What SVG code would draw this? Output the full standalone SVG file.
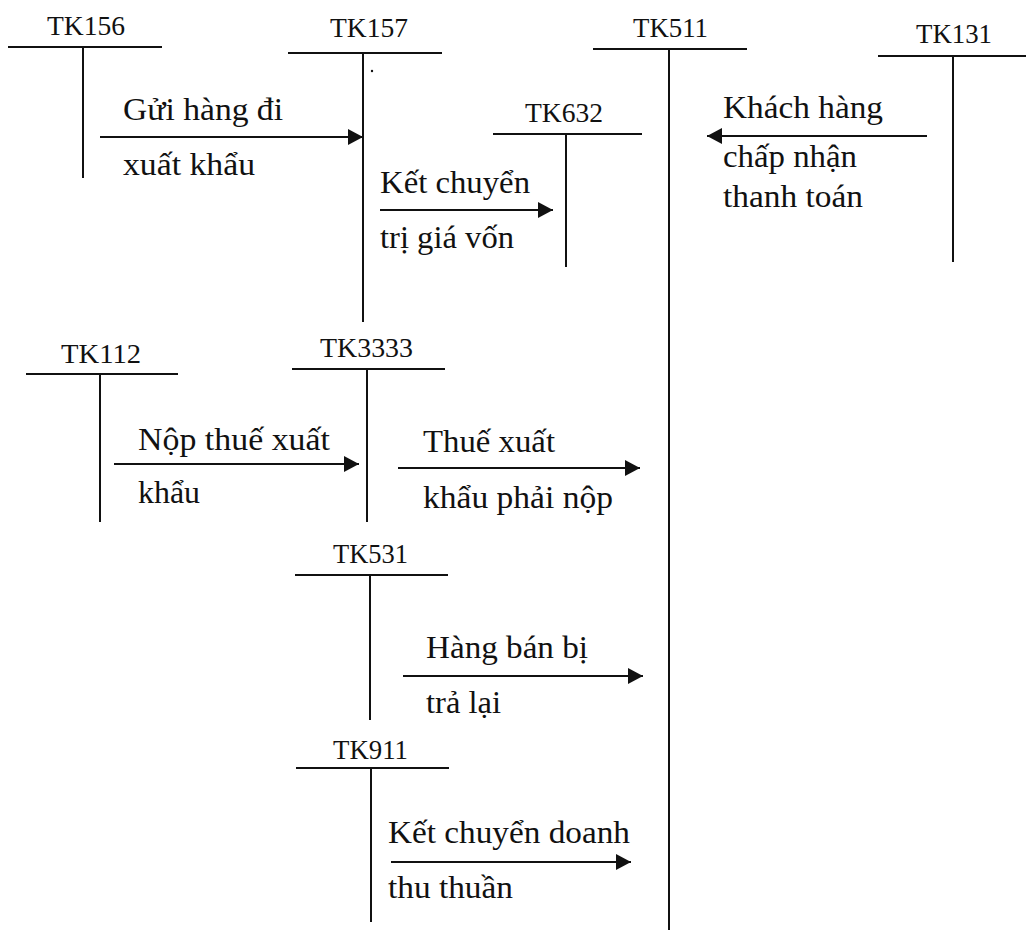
<svg xmlns="http://www.w3.org/2000/svg" width="1026" height="930" viewBox="0 0 1026 930">
  <style>
    .acct { font-family: "Liberation Serif", "Times New Roman", serif; font-size: 27px; fill: #111; }
    .note { font-family: "Liberation Serif", "Times New Roman", serif; font-size: 32px; fill: #111; }
    .t { stroke: #111; stroke-width: 2; fill: none; }
    .flow { stroke: #111; stroke-width: 2; fill: none; marker-end: url(#head); }
  </style>
  <defs>
    <marker id="head" markerUnits="userSpaceOnUse" markerWidth="16" markerHeight="16" refX="15" refY="8" orient="auto">
      <path d="M0,0 L15,8 L0,16 Z" fill="#111"/>
    </marker>
  </defs>
  <rect width="1026" height="930" fill="#fff"/>

  <!-- T-accounts -->
  <g id="tk156">
    <text class="acct" x="47" y="35" textLength="78" lengthAdjust="spacingAndGlyphs">TK156</text>
    <path class="t" d="M8,47 H162 M83,47 V178"/>
  </g>
  <g id="tk157">
    <text class="acct" x="330" y="37" textLength="78" lengthAdjust="spacingAndGlyphs">TK157</text>
    <path class="t" d="M288,53 H442 M363,53 V322"/>
    <circle cx="372" cy="71" r="1.2" fill="#111"/>
  </g>
  <g id="tk511">
    <text class="acct" x="633" y="37" textLength="75" lengthAdjust="spacingAndGlyphs">TK511</text>
    <path class="t" d="M593,49 H747 M669,49 V930"/>
  </g>
  <g id="tk632">
    <text class="acct" x="525" y="122" textLength="78" lengthAdjust="spacingAndGlyphs">TK632</text>
    <path class="t" d="M493,134 H642 M566,134 V267"/>
  </g>
  <g id="tk131">
    <text class="acct" x="916" y="43" textLength="76" lengthAdjust="spacingAndGlyphs">TK131</text>
    <path class="t" d="M878,56 H1026 M953,56 V262"/>
  </g>
  <g id="tk112">
    <text class="acct" x="61" y="363" textLength="80" lengthAdjust="spacingAndGlyphs">TK112</text>
    <path class="t" d="M26,374 H178 M100,374 V522"/>
  </g>
  <g id="tk3333">
    <text class="acct" x="320" y="357" textLength="93" lengthAdjust="spacingAndGlyphs">TK3333</text>
    <path class="t" d="M292,369 H445 M367,369 V522"/>
  </g>
  <g id="tk531">
    <text class="acct" x="333" y="563" textLength="75" lengthAdjust="spacingAndGlyphs">TK531</text>
    <path class="t" d="M295,575 H448 M370,575 V720"/>
  </g>
  <g id="tk911">
    <text class="acct" x="333" y="759" textLength="75" lengthAdjust="spacingAndGlyphs">TK911</text>
    <path class="t" d="M296,768 H449 M371,768 V922"/>
  </g>

  <!-- Postings between accounts -->
  <g id="connectors">
    <path class="flow" d="M100,137 H363"/>
    <path class="flow" d="M380,210 H553"/>
    <path class="flow" d="M927,136 H707"/>
    <path class="flow" d="M114,464 H359"/>
    <path class="flow" d="M398,468 H640"/>
    <path class="flow" d="M403,676 H643"/>
    <path class="flow" d="M391,862 H631"/>
  </g>

  <!-- Posting descriptions -->
  <g id="labels">
    <text class="note" x="123" y="120" textLength="160" lengthAdjust="spacingAndGlyphs">Gửi hàng đi</text>
    <text class="note" x="123" y="175" textLength="132" lengthAdjust="spacingAndGlyphs">xuất khẩu</text>
    <text class="note" x="380" y="193" textLength="150" lengthAdjust="spacingAndGlyphs">Kết chuyển</text>
    <text class="note" x="380" y="248" textLength="134" lengthAdjust="spacingAndGlyphs">trị giá vốn</text>
    <text class="note" x="723" y="118" textLength="160" lengthAdjust="spacingAndGlyphs">Khách hàng</text>
    <text class="note" x="723" y="167" textLength="134" lengthAdjust="spacingAndGlyphs">chấp nhận</text>
    <text class="note" x="723" y="207" textLength="140" lengthAdjust="spacingAndGlyphs">thanh toán</text>
    <text class="note" x="138" y="450" textLength="192" lengthAdjust="spacingAndGlyphs">Nộp thuế xuất</text>
    <text class="note" x="138" y="503" textLength="62" lengthAdjust="spacingAndGlyphs">khẩu</text>
    <text class="note" x="423" y="452" textLength="132" lengthAdjust="spacingAndGlyphs">Thuế xuất</text>
    <text class="note" x="423" y="508" textLength="190" lengthAdjust="spacingAndGlyphs">khẩu phải nộp</text>
    <text class="note" x="426" y="658" textLength="162" lengthAdjust="spacingAndGlyphs">Hàng bán bị</text>
    <text class="note" x="426" y="713" textLength="75" lengthAdjust="spacingAndGlyphs">trả lại</text>
    <text class="note" x="388" y="843" textLength="242" lengthAdjust="spacingAndGlyphs">Kết chuyển doanh</text>
    <text class="note" x="388" y="898" textLength="125" lengthAdjust="spacingAndGlyphs">thu thuần</text>
  </g>
</svg>
